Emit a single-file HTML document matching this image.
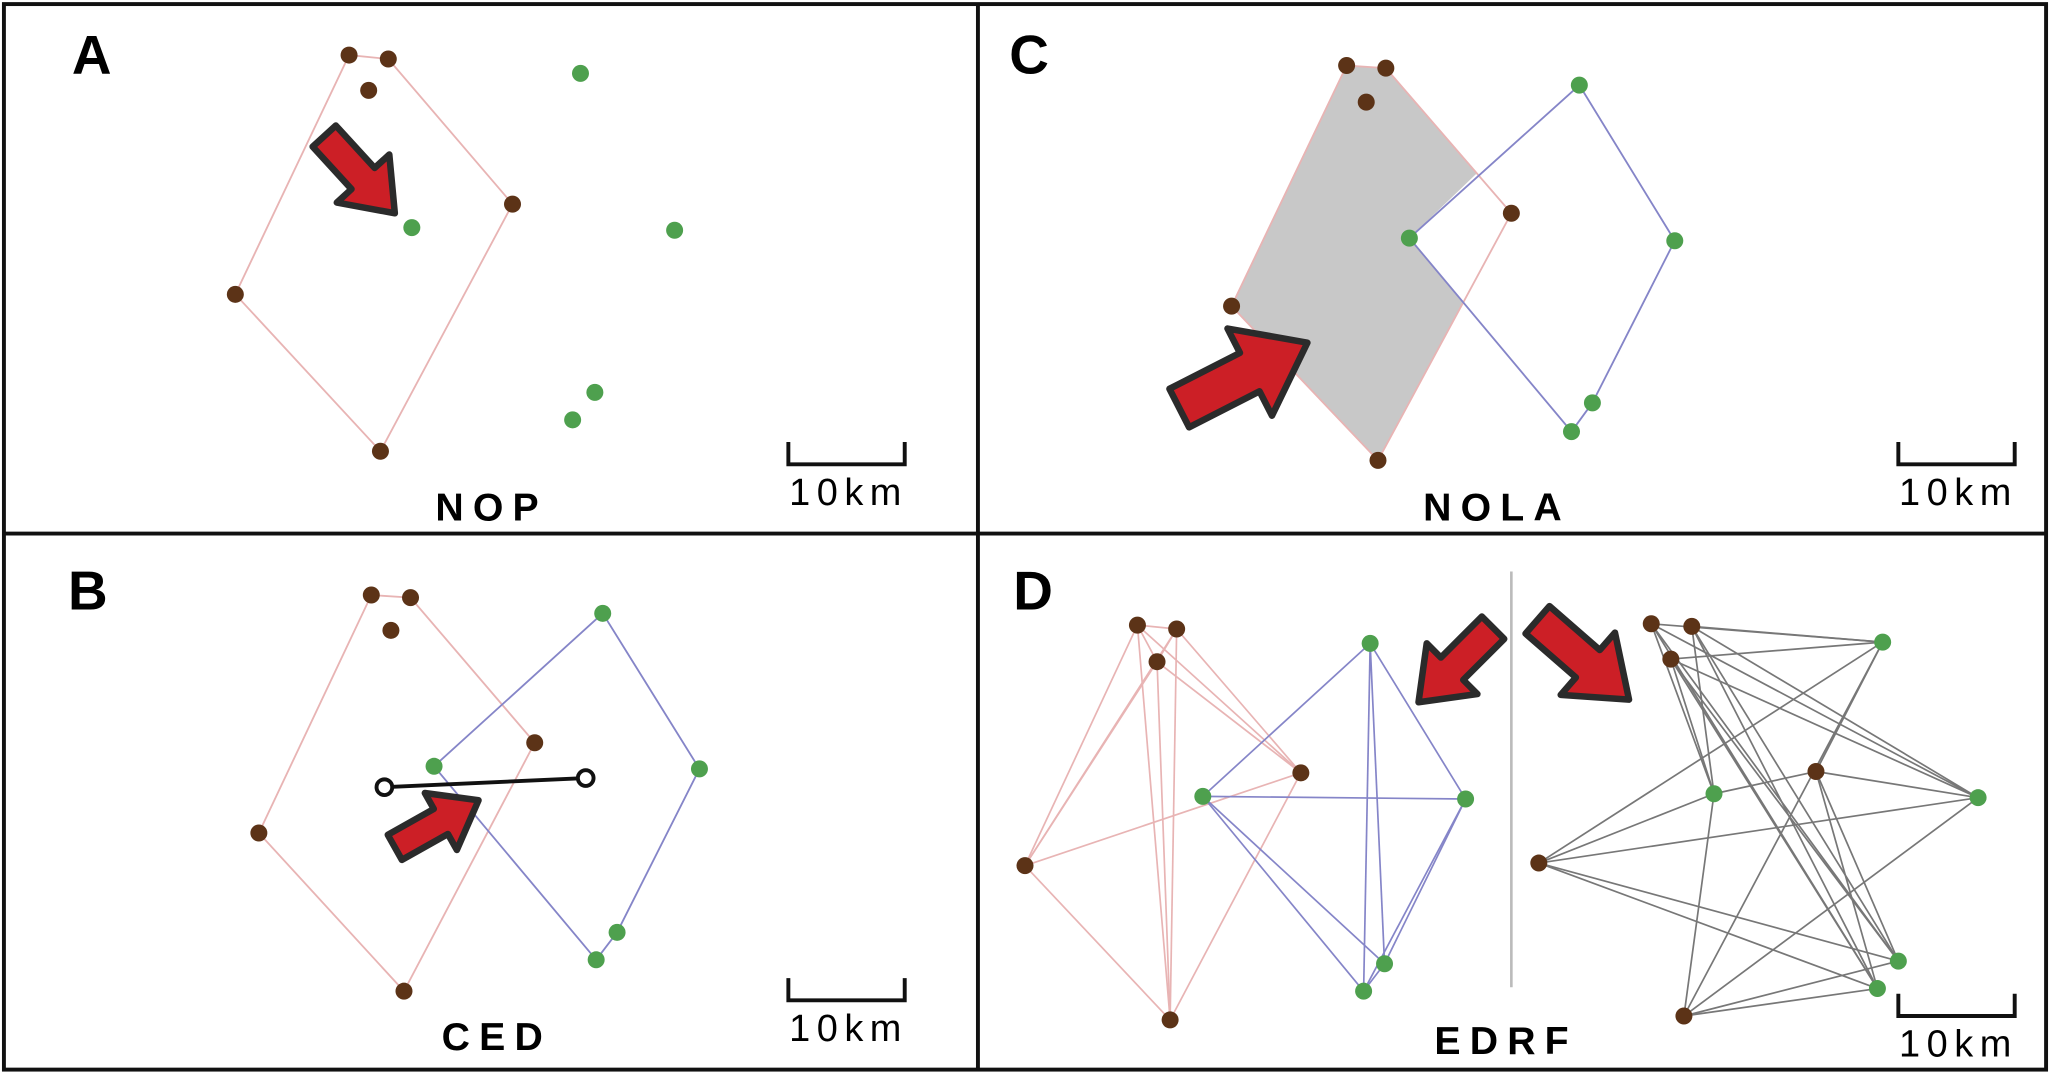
<!DOCTYPE html>
<html><head><meta charset="utf-8"><style>
html,body{margin:0;padding:0;background:#fff;}
svg{display:block;font-family:"Liberation Sans",Arial,sans-serif;}
</style></head><body>
<svg id="fig" width="2050" height="1075" viewBox="0 0 1568 822" xmlns="http://www.w3.org/2000/svg">
<rect x="0" y="0" width="1568" height="822" fill="#fff"/>
<g id="base"></g>
<rect x="3" y="3" width="1562" height="815" fill="none" stroke="#111" stroke-width="3"/>
<line x1="748" y1="3" x2="748" y2="818" stroke="#111" stroke-width="3"/>
<line x1="3" y1="408" x2="1565" y2="408" stroke="#111" stroke-width="3"/>
<text x="55" y="56" font-size="42" font-weight="bold">A</text>
<text x="52" y="466" font-size="42" font-weight="bold">B</text>
<text x="772" y="56" font-size="42" font-weight="bold">C</text>
<text x="775" y="466" font-size="42" font-weight="bold">D</text>
<text x="376" y="398" font-size="30" font-weight="bold" letter-spacing="7" text-anchor="middle">NOP</text>
<text x="380" y="803" font-size="30" font-weight="bold" letter-spacing="7" text-anchor="middle">CED</text>
<text x="1145" y="398" font-size="30" font-weight="bold" letter-spacing="7" text-anchor="middle">NOLA</text>
<text x="1152" y="806" font-size="30" font-weight="bold" letter-spacing="7" text-anchor="middle">EDRF</text>
<g id="vline"><line x1="1156" y1="437" x2="1156" y2="755" stroke="#bbb" stroke-width="2"/></g>
</svg>
<script>
var NS="http://www.w3.org/2000/svg";
var g=document.getElementById('base');
var aBrown=[[267,42],[297,45],[282,69],[392,156],[180,225],[291,345]];
var aGreen=[[444,56],[315,174],[516,176],[455,300],[438,321]];
var bBrown=[[284,455],[314,457],[299,482],[409,568],[198,637],[309,758]];
var bGreen=[[461,469],[535,588],[332,586],[472,713],[456,734]];
var cBrown=[[1030,50],[1060,52],[1045,78],[1156,163],[942,234],[1054,352]];
var cGreen=[[1208,65],[1078,182],[1281,184],[1218,308],[1202,330]];
var dBrownL=[[870,478],[900,481],[885,506],[995,591],[784,662],[895,780]];
var dGreenL=[[1048,492],[920,609],[1121,611],[1059,737],[1043,758]];
var dBrownR=[[1263,477],[1294,479],[1278,504],[1389,590],[1177,660],[1288,777]];
var dGreenR=[[1440,491],[1311,607],[1513,610],[1452,735],[1436,756]];
function el(t,a,name){var e=document.createElementNS(NS,t);for(var k in a)e.setAttribute(k,a[k]);


g.appendChild(e);return e;}
function poly(pts,stroke,fill,name){el('polygon',{points:pts.map(function(p){return p.join(',')}).join(' '),fill:fill||'none',stroke:stroke,'stroke-width':1.4},name);}
function line(a,b,c,name){el('line',{x1:a[0],y1:a[1],x2:b[0],y2:b[1],stroke:c,'stroke-width':1.3},name);}
function dots(pts,c,name){pts.forEach(function(p){el('circle',{cx:p[0],cy:p[1],r:6.5,fill:c},name);});}
var PINK='#e8b4b4',BLUE='#8585c8',BR='#5c3317',GR='#4ea04e';
poly([aBrown[0],aBrown[1],aBrown[3],aBrown[5],aBrown[4]],PINK,null,'hull-brown-a');
poly([bBrown[0],bBrown[1],bBrown[3],bBrown[5],bBrown[4]],PINK,null,'hull-brown-b');
poly([bGreen[0],bGreen[1],bGreen[3],bGreen[4],bGreen[2]],BLUE,null,'hull-green-b');
poly([[1030,50],[1060,52],[1130,132],[1078,182],[1119,231],[1054,352],[942,234]],'none','#c8c8c8','overlap-area-c');
poly([cBrown[0],cBrown[1],cBrown[3],cBrown[5],cBrown[4]],PINK,null,'hull-brown-c');
poly([cGreen[0],cGreen[2],cGreen[3],cGreen[4],cGreen[1]],BLUE,null,'hull-green-c');
function complete(pts,c,name){for(var i=0;i<pts.length;i++)for(var j=i+1;j<pts.length;j++)line(pts[i],pts[j],c,name);}
complete(dBrownL,PINK,'edge-brown-d');complete(dGreenL,BLUE,'edge-green-d');
dBrownR.forEach(function(a){dGreenR.forEach(function(b){line(a,b,'#777','edge-bipartite-d');});});
el('line',{x1:294,y1:602,x2:448,y2:595,stroke:'#111','stroke-width':3},'distance-line-b');
[[294,602],[448,595]].forEach(function(p){el('circle',{cx:p[0],cy:p[1],r:6,fill:'#fff',stroke:'#111','stroke-width':3},'distance-endpoint');});
[[aBrown,aGreen,'a'],[bBrown,bGreen,'b'],[cBrown,cGreen,'c'],[dBrownL,dGreenL,'d'],[dBrownR,dGreenR,'d2']].forEach(function(s){dots(s[0],BR,'brown-site-'+s[2]);dots(s[1],GR,'green-site-'+s[2]);});
function arrow(x1,y1,x2,y2,name){var dx=x2-x1,dy=y2-y1,L=Math.sqrt(dx*dx+dy*dy),ang=Math.atan2(dy,dx)*180/Math.PI;
var sw=L*0.15,hw=L*0.34,hl=L*0.45;
var pts=[[0,-sw],[L-hl,-sw],[L-hl,-hw],[L,0],[L-hl,hw],[L-hl,sw],[0,sw]].map(function(p){return p.join(',')}).join(' ');
el('polygon',{points:pts,fill:'#cc1f26',stroke:'#2b2b2b','stroke-width':5,'stroke-linejoin':'round',transform:'translate('+x1+','+y1+') rotate('+ang+')'},name);}
arrow(248,104,302,163,'arrow-a');
arrow(302,648,366,612,'arrow-b');
arrow(902,312,1000,262,'arrow-c');
arrow(1142,480,1085,537,'arrow-d-left');
arrow(1176,474,1246,535,'arrow-d-right');
function scale(x,y,name){el('path',{d:'M'+x+','+(y-17)+' V'+y+' H'+(x+89)+' V'+(y-17),fill:'none',stroke:'#111','stroke-width':3},name);
var t=el('text',{x:x+46,y:y+31,'font-size':29,'text-anchor':'middle','letter-spacing':5},name+'-label');t.textContent='10km';}
scale(603,355,'scale-bar-a');scale(603,765,'scale-bar-b');scale(1452,355,'scale-bar-c');scale(1452,777,'scale-bar-d');
</script>
</body></html>
